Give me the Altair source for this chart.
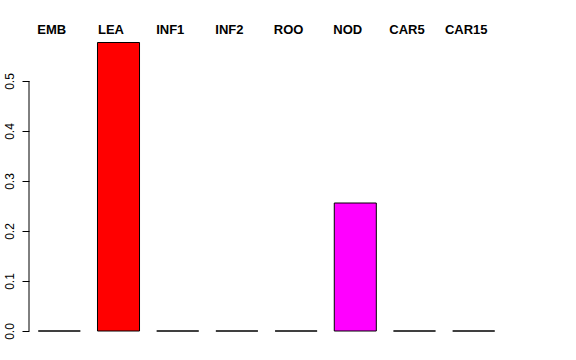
import altair as alt
import pandas as pd

categories = ["EMB", "LEA", "INF1", "INF2", "ROO", "NOD", "CAR5", "CAR15"]
values = [0.0, 0.577, 0.0, 0.0, 0.0, 0.256, 0.0, 0.0]
colors = ["#000000", "#FF0000", "#00CD00", "#0000FF", "#00FFFF", "#FF00FF", "#FFFF00", "#BEBEBE"]
y_ticks = [0.0, 0.1, 0.2, 0.3, 0.4, 0.5]

df = pd.DataFrame({"cat": categories, "val": values, "col": colors})

xscale = alt.Scale(domain=categories, paddingInner=0.29, paddingOuter=0.157)

bars = alt.Chart(df).mark_bar(stroke="black", strokeWidth=1).encode(
    x=alt.X("cat:N", scale=xscale, axis=None, sort=categories),
    y=alt.Y(
        "val:Q",
        scale=alt.Scale(domain=[0, 0.6], nice=False),
        axis=alt.Axis(
            values=y_ticks,
            title=None,
            grid=False,
            domain=False,
            tickColor="black",
            tickSize=7,
            labelAngle=270,
            labelAlign="center",
            labelBaseline="bottom",
            labelPadding=6,
            labelFont="Liberation Sans",
            labelFontSize=12,
            labelColor="black",
            format=".1f",
        ),
    ),
    color=alt.Color("col:N", scale=None),
)

axis_line = alt.Chart(pd.DataFrame({"y0": [y_ticks[0]], "y1": [y_ticks[-1]]})).mark_rule(
    color="black", strokeWidth=1
).encode(x=alt.value(0), y="y0:Q", y2="y1:Q")

labels = alt.Chart(df).mark_text(
    font="Liberation Sans", fontSize=13, fontWeight="bold", baseline="alphabetic",
    align="center", dx=-7.5, color="black"
).encode(
    x=alt.X("cat:N", scale=xscale, sort=categories),
    y=alt.value(2.5),
    text="cat:N",
)

chart = alt.layer(bars, axis_line, labels).properties(
    width=475,
    height=300,
    padding={"left": 29, "top": 31, "right": 72, "bottom": 29},
    autosize=alt.AutoSizeParams(type="none"),
    background="white",
).configure_view(stroke=None, strokeWidth=0)

chart.save("out.html", embed_options={"renderer": "svg", "actions": False})
